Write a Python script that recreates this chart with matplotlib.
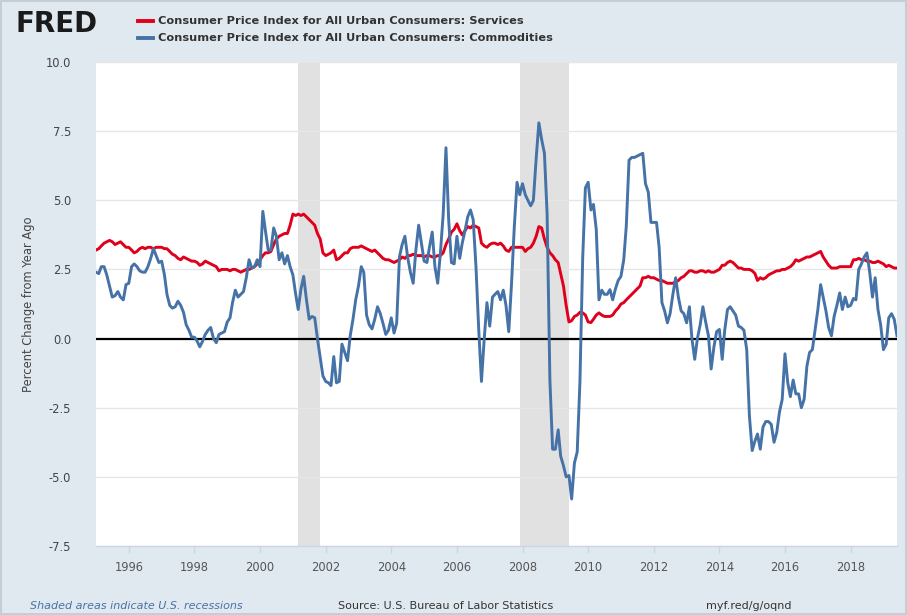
import matplotlib
matplotlib.use("Agg")
import matplotlib.pyplot as plt
import pandas as pd
import numpy as np

# ---------------- data (monthly, Jan 1995 - Jun 2019) ----------------
start_month = "1995-01-01"

services = [
    3.2, 3.25, 3.35, 3.45, 3.5, 3.55, 3.5, 3.4, 3.45, 3.5, 3.4, 3.3,        # 1995
    3.3, 3.2, 3.1, 3.15, 3.25, 3.3, 3.25, 3.3, 3.3, 3.25, 3.3, 3.3,         # 1996
    3.3, 3.25, 3.25, 3.15, 3.05, 3.0, 2.9, 2.85, 2.95, 2.9, 2.85, 2.8,      # 1997
    2.8, 2.75, 2.65, 2.7, 2.8, 2.75, 2.7, 2.65, 2.6, 2.45, 2.5, 2.5,        # 1998
    2.5, 2.45, 2.5, 2.5, 2.45, 2.4, 2.45, 2.5, 2.5, 2.55, 2.6, 2.7,         # 1999
    2.85, 3.0, 3.1, 3.1, 3.15, 3.4, 3.6, 3.7, 3.75, 3.8, 3.8, 4.1,          # 2000
    4.5, 4.45, 4.5, 4.45, 4.5, 4.4, 4.3, 4.2, 4.1, 3.8, 3.6, 3.1,           # 2001
    3.0, 3.05, 3.1, 3.2, 2.85, 2.9, 3.0, 3.1, 3.1, 3.25, 3.3, 3.3,          # 2002
    3.3, 3.35, 3.3, 3.25, 3.2, 3.15, 3.2, 3.1, 3.0, 2.9, 2.85, 2.85,        # 2003
    2.8, 2.75, 2.8, 2.85, 2.95, 2.9, 3.0, 3.0, 3.05, 3.0, 3.0, 3.0,         # 2004
    2.95, 3.0, 3.0, 2.95, 2.95, 3.0, 3.0, 3.1, 3.4, 3.6, 3.85, 3.95,        # 2005
    4.15, 3.9, 3.75, 3.9, 4.05, 4.0, 4.1, 4.05, 4.0, 3.45, 3.35, 3.3,       # 2006
    3.4, 3.45, 3.45, 3.4, 3.45, 3.35, 3.2, 3.15, 3.3, 3.3, 3.3, 3.3,        # 2007
    3.3, 3.15, 3.25, 3.3, 3.45, 3.7, 4.05, 4.0, 3.6, 3.3, 3.1, 3.0,         # 2008
    2.85, 2.75, 2.35, 1.9, 1.2, 0.6, 0.65, 0.8, 0.85, 0.95, 0.93, 0.85,     # 2009
    0.6, 0.58, 0.7, 0.85, 0.93, 0.85, 0.8, 0.8, 0.8, 0.85, 1.0, 1.1,        # 2010
    1.25, 1.3, 1.4, 1.5, 1.6, 1.7, 1.8, 1.9, 2.2, 2.2, 2.25, 2.2,           # 2011
    2.2, 2.15, 2.1, 2.1, 2.05, 2.0, 2.0, 2.0, 2.05, 2.1, 2.2, 2.25,         # 2012
    2.35, 2.45, 2.45, 2.4, 2.4, 2.45, 2.45, 2.4, 2.45, 2.4, 2.4, 2.45,      # 2013
    2.5, 2.65, 2.65, 2.75, 2.8, 2.75, 2.65, 2.55, 2.55, 2.5, 2.5, 2.5,      # 2014
    2.45, 2.35, 2.1, 2.2, 2.15, 2.2, 2.3, 2.35, 2.4, 2.45, 2.45, 2.5,       # 2015
    2.5, 2.55, 2.6, 2.7, 2.85, 2.8, 2.85, 2.9, 2.95, 2.95, 3.0, 3.05,       # 2016
    3.1, 3.15, 2.95, 2.8, 2.65, 2.55, 2.55, 2.55, 2.6, 2.6, 2.6, 2.6,       # 2017
    2.6, 2.85, 2.85, 2.9, 2.85, 2.85, 2.8, 2.8, 2.75, 2.75, 2.8, 2.75,      # 2018
    2.7, 2.6, 2.65, 2.6, 2.55, 2.55,                                        # 2019
]

commodities = [
    2.4, 2.35, 2.6, 2.6, 2.3, 1.9, 1.5, 1.55, 1.7, 1.5, 1.4, 1.95,          # 1995
    2.0, 2.6, 2.7, 2.6, 2.45, 2.4, 2.4, 2.6, 2.9, 3.25, 3.0, 2.75,          # 1996
    2.8, 2.3, 1.6, 1.2, 1.1, 1.15, 1.35, 1.2, 0.95, 0.5, 0.3, 0.05,         # 1997
    0.05, -0.1, -0.3, -0.1, 0.15, 0.3, 0.4, 0.0, -0.15, 0.15, 0.2, 0.25,    # 1998
    0.6, 0.75, 1.3, 1.75, 1.5, 1.6, 1.7, 2.2, 2.85, 2.55, 2.6, 2.85,        # 1999
    2.6, 4.6, 3.9, 3.2, 3.2, 4.0, 3.7, 2.85, 3.1, 2.7, 3.0, 2.6,            # 2000
    2.3, 1.6, 1.05, 1.8, 2.25, 1.4, 0.7, 0.8, 0.75, 0.0, -0.7, -1.35,       # 2001
    -1.55, -1.6, -1.7, -0.65, -1.6, -1.55, -0.2, -0.5, -0.8, 0.1, 0.7, 1.4, # 2002
    1.9, 2.6, 2.4, 0.85, 0.5, 0.35, 0.7, 1.15, 0.9, 0.55, 0.15, 0.3,        # 2003
    0.75, 0.2, 0.55, 2.95, 3.4, 3.7, 2.95, 2.4, 2.0, 3.2, 4.1, 3.45,        # 2004
    2.8, 2.75, 3.3, 3.85, 2.6, 2.0, 3.1, 4.5, 6.9, 4.3, 2.75, 2.7,          # 2005
    3.7, 2.9, 3.45, 3.9, 4.4, 4.65, 4.3, 2.6, 0.3, -1.55, 0.0, 1.3,         # 2006
    0.45, 1.5, 1.6, 1.7, 1.4, 1.75, 1.2, 0.25, 2.0, 4.0, 5.65, 5.2,         # 2007
    5.6, 5.2, 5.0, 4.8, 5.0, 6.5, 7.8, 7.2, 6.7, 4.5, -1.5, -4.0,           # 2008
    -4.0, -3.3, -4.25, -4.6, -5.0, -4.95, -5.8, -4.5, -4.1, -1.6, 2.9, 5.45, # 2009
    5.65, 4.65, 4.85, 3.95, 1.4, 1.75, 1.6, 1.6, 1.77, 1.4, 1.8, 2.1,       # 2010
    2.25, 2.85, 4.05, 6.45, 6.55, 6.55, 6.6, 6.65, 6.7, 5.6, 5.3, 4.2,      # 2011
    4.2, 4.2, 3.3, 1.3, 1.0, 0.57, 0.9, 1.6, 2.2, 1.5, 1.0, 0.9,            # 2012
    0.57, 1.15, 0.0, -0.75, 0.0, 0.5, 1.15, 0.6, 0.1, -1.1, -0.3, 0.25,     # 2013
    0.33, -0.75, 0.3, 1.05, 1.15, 1.0, 0.85, 0.45, 0.4, 0.3, -0.4, -2.8,    # 2014
    -4.05, -3.7, -3.45, -4.0, -3.2, -3.0, -3.0, -3.1, -3.75, -3.4, -2.65, -2.2,  # 2015
    -0.55, -1.6, -2.1, -1.5, -2.0, -2.0, -2.5, -2.2, -1.0, -0.5, -0.4, 0.3, # 2016
    1.05, 1.95, 1.5, 1.0, 0.4, 0.1, 0.8, 1.2, 1.65, 1.05, 1.5, 1.15,        # 2017
    1.2, 1.45, 1.4, 2.5, 2.7, 2.95, 3.1, 2.4, 1.5, 2.2, 1.05, 0.5,          # 2018
    -0.4, -0.2, 0.75, 0.9, 0.7, 0.1,                                        # 2019
]

recessions = [("2001-03-01", "2001-11-01"), ("2007-12-01", "2009-06-01")]
year_ticks = list(range(1996, 2019, 2))
y_ticks = [-7.5, -5.0, -2.5, 0.0, 2.5, 5.0, 7.5, 10.0]

series_labels = ["Consumer Price Index for All Urban Consumers: Services",
                 "Consumer Price Index for All Urban Consumers: Commodities"]

# ---------------- styling ----------------
W, H = 907, 615
BG = "#e1e9f0"
RED = "#e0001b"
BLUE = "#4572a7"

plt.rcParams["font.family"] = ["DejaVu Sans"]

fig = plt.figure(figsize=(W / 100, H / 100), dpi=100, facecolor=BG)
fig.patch.set_edgecolor("#c5ced6")
fig.patch.set_linewidth(1.5)


def px(x, y):
    return x / W, 1 - y / H


left, top, right, bottom = 96, 62, 897, 546
ax = fig.add_axes([left / W, 1 - bottom / H, (right - left) / W, (bottom - top) / H])
ax.set_facecolor("white")

dates = pd.date_range(start_month, periods=len(services), freq="MS")

for s, e in recessions:
    ax.axvspan(pd.Timestamp(s), pd.Timestamp(e), color="#e1e1e1", lw=0, zorder=0)

ax.axhline(0, color="black", lw=1.6, zorder=2)
ax.plot(dates, services, color=RED, lw=2.1, zorder=3, solid_joinstyle="round")
ax.plot(dates, commodities, color=BLUE, lw=2.1, zorder=4, solid_joinstyle="round")

ax.set_xlim(dates[0], dates[-1])
ax.set_ylim(-7.5, 10.0)
ax.set_yticks(y_ticks)
ax.set_yticklabels([f"{v:.1f}" for v in y_ticks])
ax.set_xticks([pd.Timestamp(f"{y}-01-01") for y in year_ticks])
ax.set_xticklabels([str(y) for y in year_ticks])

ax.grid(axis="y", color="#e6e6e6", lw=1, zorder=1)
ax.set_axisbelow(True)
for side in ["top", "right", "left"]:
    ax.spines[side].set_visible(False)
ax.spines["bottom"].set_color("#ccd6eb")
ax.spines["bottom"].set_linewidth(1)

ax.tick_params(axis="y", length=0, labelsize=8.3, labelcolor="#444444", pad=18)
ax.tick_params(axis="x", length=5, width=1, color="#ccd6eb", labelsize=8.3,
               labelcolor="#555555", pad=6)

ax.set_ylabel("Percent Change from Year Ago", fontsize=8.3, color="#444444", labelpad=8)

# ---------------- header ----------------
fig.text(*px(15, 24), "FRED", fontsize=20, fontweight="bold", color="#1a1a1a",
         va="center", ha="left")

# legend
for i, (lab, col) in enumerate(zip(series_labels, [RED, BLUE])):
    yy = 21 + i * 17
    fig.lines.append(plt.Line2D([138 / W, 153 / W], [1 - yy / H, 1 - yy / H],
                                color=col, lw=2.8, transform=fig.transFigure))
    fig.text(*px(158, yy), lab, fontsize=8.2, fontweight="bold", color="#333333",
             va="center", ha="left")

# ---------------- footer ----------------
fig.text(*px(30, 606), "Shaded areas indicate U.S. recessions", fontsize=8,
         style="italic", color="#4572a7", va="center", ha="left")
fig.text(*px(338, 606), "Source: U.S. Bureau of Labor Statistics", fontsize=8,
         color="#333333", va="center", ha="left")
fig.text(*px(706, 606), "myf.red/g/oqnd", fontsize=8, color="#333333",
         va="center", ha="left")

fig.savefig("out.png", dpi=100, facecolor=BG, edgecolor=fig.patch.get_edgecolor())
